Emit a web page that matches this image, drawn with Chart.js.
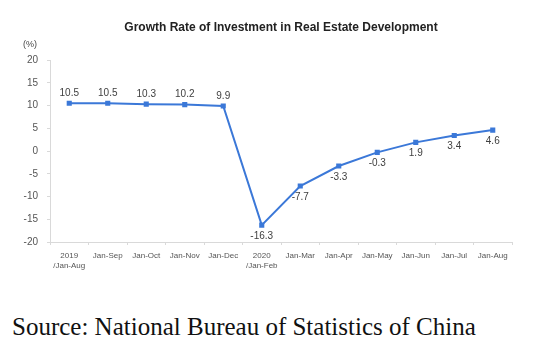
<!DOCTYPE html>
<html><head><meta charset="utf-8">
<script src="https://cdn.jsdelivr.net/npm/chart.js@4/dist/chart.umd.min.js"></script>
<style>
html,body{margin:0;padding:0;background:#fff;width:537px;height:354px;overflow:hidden}
#wrap{position:absolute;left:0;top:0;width:537px;height:290px}
#src{position:absolute;left:12px;top:312px;font-family:"Liberation Serif","Times New Roman",serif;font-size:25px;line-height:30px;color:#111;white-space:nowrap}
</style></head>
<body>
<div id="wrap"><canvas id="c" width="537" height="290"></canvas></div>
<div id="src">Source: National Bureau of Statistics of China</div>
<script>
const categories = [["2019","/Jan-Aug"],"Jan-Sep","Jan-Oct","Jan-Nov","Jan-Dec",["2020","/Jan-Feb"],"Jan-Mar","Jan-Apr","Jan-May","Jan-Jun","Jan-Jul","Jan-Aug"];
const growthRate = [10.5,10.5,10.3,10.2,9.9,-16.3,-7.7,-3.3,-0.3,1.9,3.4,4.6];
const labelAbove = [true,true,true,true,true,false,false,false,false,false,false,false];
const yTicks = {min:-20,max:20,step:5};
const titleText = "Growth Rate of Investment in Real Estate Development";
const unitText = "(%)";

const labelPlugin = {
  id:'labels',
  afterDatasetsDraw(chart){
    const ctx = chart.ctx;
    const meta = chart.getDatasetMeta(0);
    ctx.save();
    ctx.font = '10px "Liberation Sans", Arial, sans-serif';
    ctx.fillStyle = '#404040';
    ctx.textAlign = 'center';
    meta.data.forEach((p,i)=>{
      const v = growthRate[i];
      if(labelAbove[i]){ ctx.textBaseline='bottom'; ctx.fillText(v.toFixed(1), p.x, p.y-5); }
      else { ctx.textBaseline='top'; ctx.fillText(v.toFixed(1), p.x, p.y+6); }
    });
    ctx.font = 'bold 12px "Liberation Sans", Arial, sans-serif';
    ctx.fillStyle = '#222';
    ctx.textBaseline = 'middle';
    ctx.fillText(titleText, 281, 28);
    ctx.font = '9px "Liberation Sans", Arial, sans-serif';
    ctx.fillStyle = '#444';
    ctx.fillText(unitText, 30, 45);
    ctx.restore();
  }
};

new Chart(document.getElementById('c'), {
  type:'line',
  data:{labels:categories, datasets:[{data:growthRate, borderColor:'#3b78d8', backgroundColor:'#3b78d8', borderWidth:2, pointRadius:2.2, pointStyle:'rect', tension:0}]},
  options:{
    responsive:false, animation:false, devicePixelRatio:1,
    layout:{padding:{top:60,right:25,bottom:0,left:0}},
    plugins:{legend:{display:false}, title:{display:false}, tooltip:{enabled:false}},
    scales:{
      x:{offset:true, grid:{display:true, drawOnChartArea:false, offset:true, color:'#d9d9d9', tickLength:3}, border:{color:'#d9d9d9'},
         ticks:{font:{size:8, family:'"Liberation Sans", Arial, sans-serif'}, color:'#555', maxRotation:0, autoSkip:false, padding:6},
         afterFit(s){s.height=48;}},
      y:{min:yTicks.min, max:yTicks.max, ticks:{stepSize:yTicks.step, font:{size:10, family:'"Liberation Sans", Arial, sans-serif'}, color:'#555', padding:9},
         grid:{display:true, drawOnChartArea:false, color:'#d9d9d9', tickLength:3}, border:{color:'#d9d9d9'},
         afterFit(s){s.width=50;}}
    }
  },
  plugins:[labelPlugin]
});
</script>
</body></html>
